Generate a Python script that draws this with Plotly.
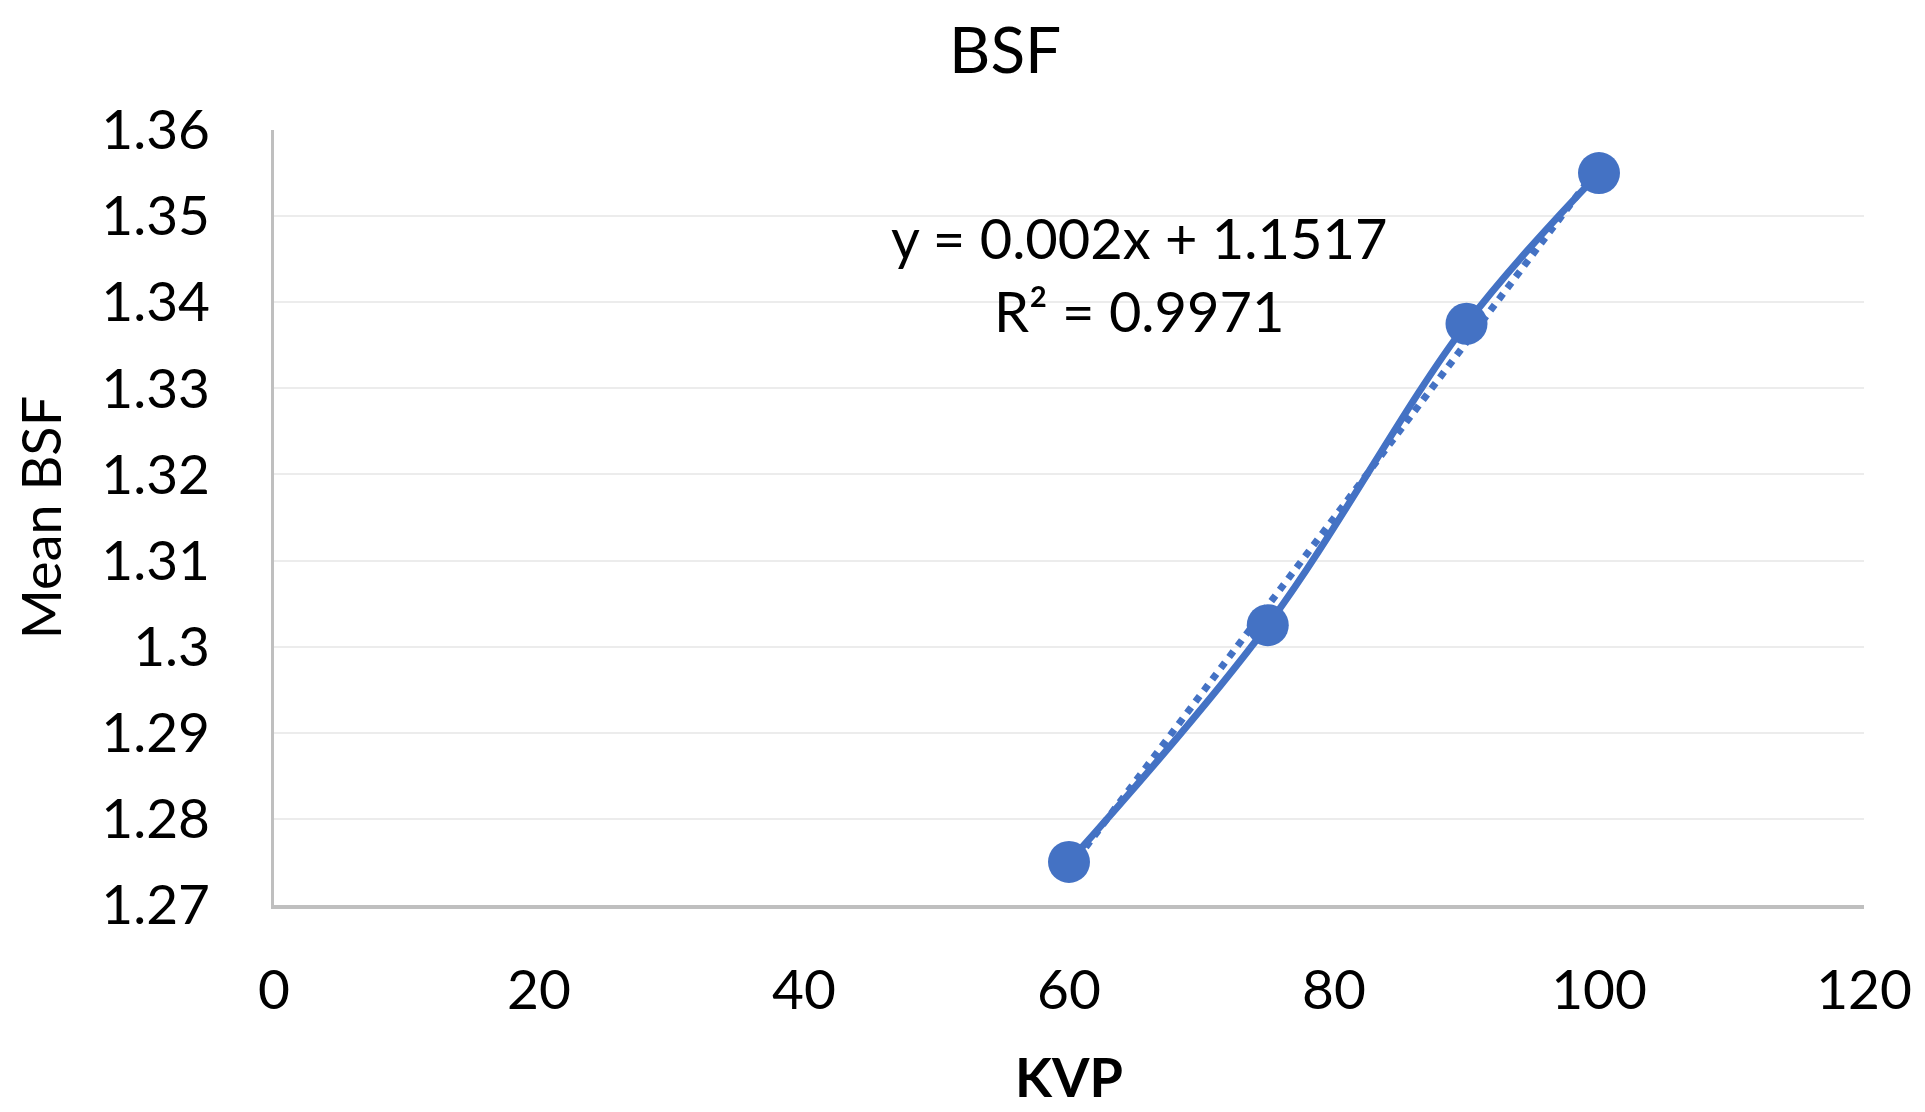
import numpy as np
import plotly.graph_objects as go

kvp = [60, 75, 90, 100]
mean_bsf = [1.275, 1.3025, 1.3375, 1.355]
x_ticks = [0, 20, 40, 60, 80, 100, 120]
y_ticks = [1.27, 1.28, 1.29, 1.30, 1.31, 1.32, 1.33, 1.34, 1.35, 1.36]
y_tick_text = ["1.27", "1.28", "1.29", "1.3", "1.31", "1.32", "1.33", "1.34", "1.35", "1.36"]
eq_text = "y = 0.002x + 1.1517<br>R² = 0.9971"

BLUE = "#4472C4"
FONT = "Lato"
W, H = 1925, 1112
L, R, T, B = 266, 69, 122, 215

slope, intercept = np.polyfit(kvp, mean_bsf, 1)
trend_x = [min(kvp), max(kvp)]
trend_y = [slope * v + intercept for v in trend_x]

fig = go.Figure()
fig.add_trace(go.Scatter(x=trend_x, y=trend_y, mode="lines",
                         line=dict(color=BLUE, width=7, dash="dot"),
                         showlegend=False, hoverinfo="skip"))
fig.add_trace(go.Scatter(x=kvp, y=mean_bsf, mode="lines+markers",
                         line=dict(color=BLUE, width=7, shape="spline", smoothing=1),
                         marker=dict(color=BLUE, size=42),
                         showlegend=False))

fig.add_annotation(x=65.3, y=1.3433, xref="x", yref="y", text=eq_text,
                   showarrow=False, font=dict(family=FONT, size=56, color="#000"),
                   align="center")

fig.add_annotation(xref="paper", yref="paper",
                   x=(997 - L) / (W - L - R),
                   y=1 + (T - 40) / (H - T - B),
                   text="BSF", showarrow=False, xanchor="center", yanchor="middle",
                   font=dict(family=FONT, size=64, color="#000"))

fig.update_layout(
    width=W, height=H,
    margin=dict(l=L, r=R, t=T, b=B),
    paper_bgcolor="white", plot_bgcolor="white",
    font=dict(family=FONT, color="#000"),
)

fig.update_xaxes(range=[0, 120], tickvals=x_ticks, ticktext=[str(v) for v in x_ticks],
                 showgrid=False, zeroline=False,
                 showline=True, linecolor="#bfbfbf", linewidth=4,
                 ticks="outside", ticklen=34, tickcolor="rgba(0,0,0,0)",
                 tickfont=dict(family=FONT, size=55, color="#000"),
                 title=dict(text="<b>KVP</b>", font=dict(family=FONT, size=54, color="#000"),
                            standoff=40))
fig.update_yaxes(range=[1.27, 1.36], tickvals=y_ticks, ticktext=y_tick_text,
                 showgrid=True, gridcolor="#ececec", gridwidth=1.5, zeroline=False,
                 showline=True, linecolor="#bfbfbf", linewidth=3,
                 ticks="outside", ticklen=50, tickcolor="rgba(0,0,0,0)",
                 tickfont=dict(family=FONT, size=55, color="#000"),
                 title=dict(text="Mean BSF", font=dict(family=FONT, size=54, color="#000"),
                            standoff=25))

fig.write_html("out.html")
